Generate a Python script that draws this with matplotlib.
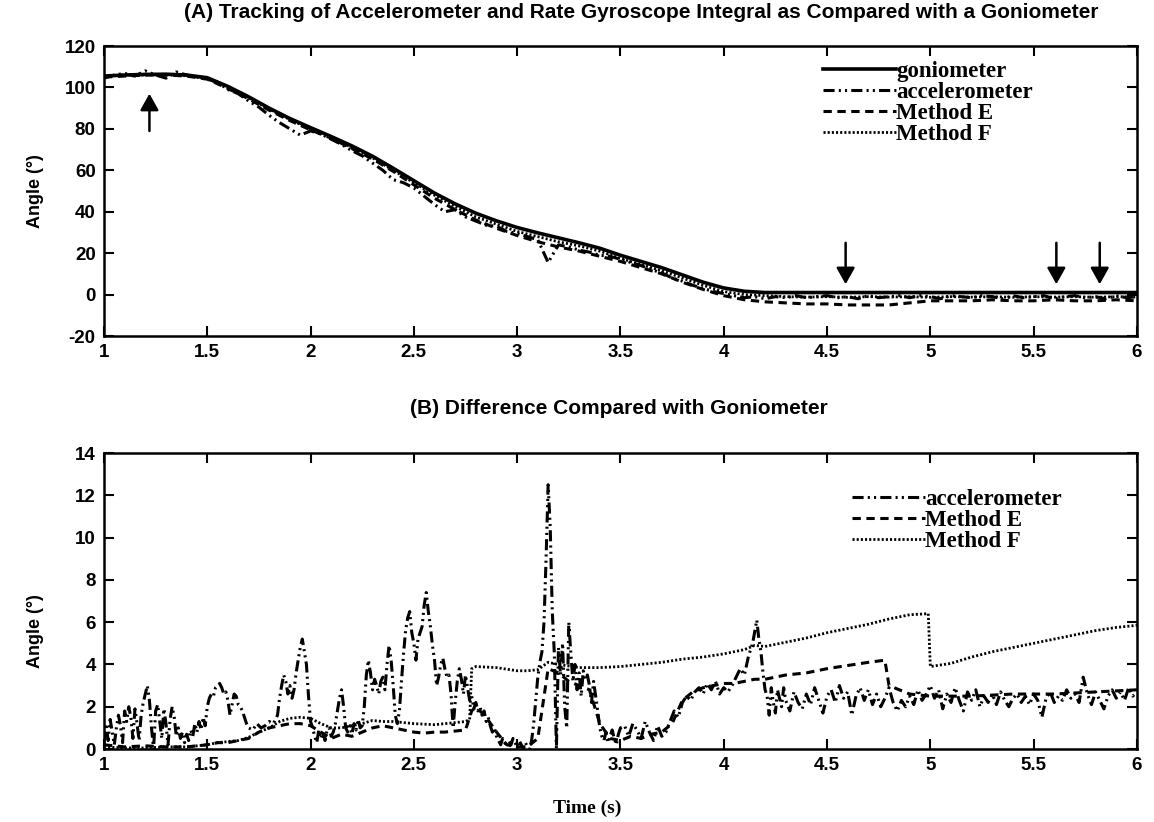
import numpy as np
import matplotlib
matplotlib.use("Agg")
import matplotlib.pyplot as plt

plt.rcParams["lines.scale_dashes"] = False
plt.rcParams["axes.unicode_minus"] = False
plt.rcParams["font.family"] = "Liberation Sans"
plt.rcParams["font.weight"] = "bold"

# ---- (A) joint angle, sampled every 0.1 s (accelerometer every 0.05 s)
t_a = np.round(np.arange(1.0, 6.001, 0.1), 2)
t_acc_a = np.round(np.arange(1.0, 6.001, 0.05), 3)

gonio_a = [105.5, 106.0, 106.3, 106.4, 106.0, 104.7, 100.5, 95.5, 90.0, 85.0,
           80.6, 76.3, 71.8, 66.8, 61.0, 55.0, 49.0, 43.8, 39.3, 35.6,
           32.4, 29.8, 27.4, 25.0, 22.4, 19.0, 16.0, 13.0, 9.5, 6.0,
           3.2, 1.6, 1.0, 1.0, 1.0, 1.0, 1.0, 1.0, 1.0, 1.0,
           1.0, 1.0, 1.0, 1.0, 1.0, 1.0, 1.0, 1.0, 1.0, 1.0, 1.0]

method_e_a = [105.0, 105.5, 106.0, 106.0, 105.5, 104.0, 99.5, 94.5, 89.0, 84.0,
              79.5, 75.5, 70.5, 65.5, 59.5, 53.0, 46.5, 41.0, 36.0, 32.0,
              28.5, 25.5, 23.0, 21.0, 18.5, 16.0, 13.0, 10.0, 6.0, 2.5,
              -0.5, -2.5, -3.5, -4.0, -4.5, -4.5, -5.0, -5.0, -5.0, -4.0,
              -3.0, -3.0, -3.0, -2.5, -3.0, -3.0, -2.5, -3.0, -3.0, -2.5, -3.0]

method_f_a = [105.5, 106.0, 106.0, 106.2, 105.8, 104.3, 100.0, 95.0, 89.5, 84.5,
              80.0, 75.8, 71.0, 66.0, 60.0, 54.0, 48.0, 42.5, 37.5, 34.0,
              30.5, 28.0, 25.5, 23.5, 21.0, 17.5, 14.5, 11.5, 8.0, 4.5,
              1.5, 0.0, -0.5, -1.0, -1.2, -1.0, -1.3, -1.0, -1.2, -1.0,
              -1.3, -1.0, -1.2, -1.0, -1.3, -1.0, -1.2, -1.0, -1.3, -1.0, -1.2]

accel_a = [104.5, 106.0, 106.8, 105.5, 108.0, 106.0, 104.5, 107.5, 106.0, 105.0,
           104.0, 102.5, 99.0, 97.0, 93.5, 90.5, 86.5, 83.0, 80.0, 77.0,
           79.0, 77.5, 75.0, 72.5, 69.5, 67.0, 63.5, 60.0, 55.5, 54.0,
           51.5, 47.5, 43.5, 40.0, 41.0, 37.5, 35.5, 33.5, 33.0, 30.5,
           29.5, 28.0, 26.5, 15.5, 24.0, 23.0, 21.5, 20.5, 19.0, 18.5,
           17.0, 15.5, 14.0, 12.0, 10.5, 8.0, 6.5, 4.5, 3.0, 1.5,
           0.5, -0.5, -1.5, -1.0, -2.0, -1.0, -1.5, -0.5, -1.5, -1.0,
           -0.5, -1.5, -1.0, -2.0, -0.5, -1.5, -1.0, -0.5, -1.5, -0.5,
           -1.0, -2.0, -0.5, -1.0, -1.5, -0.5, -1.0, -2.0, -0.5, -1.5,
           -1.0, -0.5, -2.0, -1.0, -0.5, -1.5, -1.0, -2.0, -0.5, -1.5, -1.0]

# arrows marking events in (A)
up_arrow_t = [1.22]
down_arrow_t = [4.59, 5.61, 5.82]

# ---- (B) absolute difference from the goniometer
acc_b_t = [1.00, 1.01, 1.02, 1.03, 1.04, 1.05, 1.06, 1.07, 1.08, 1.09,
           1.10, 1.11, 1.12, 1.13, 1.14, 1.15, 1.16, 1.17, 1.18, 1.19,
           1.20, 1.21, 1.22, 1.23, 1.24, 1.25, 1.26, 1.27, 1.28, 1.29,
           1.30, 1.31, 1.32, 1.33, 1.34, 1.35, 1.36, 1.37, 1.38, 1.39,
           1.40, 1.41, 1.42, 1.43, 1.44, 1.45, 1.46, 1.47, 1.48, 1.49,
           1.50, 1.51, 1.52, 1.53, 1.54, 1.55, 1.56, 1.57, 1.58, 1.59,
           1.60, 1.61, 1.62, 1.63, 1.64, 1.65, 1.66, 1.67, 1.68, 1.69,
           1.70, 1.72, 1.74, 1.76, 1.78, 1.80, 1.82, 1.84, 1.85, 1.86,
           1.87, 1.88, 1.89, 1.90, 1.91, 1.92, 1.93, 1.94, 1.95, 1.96,
           1.97, 1.98, 1.99, 2.00, 2.01, 2.02, 2.03, 2.04, 2.05, 2.06,
           2.07, 2.08, 2.09, 2.10, 2.11, 2.12, 2.13, 2.14, 2.15, 2.16,
           2.17, 2.18, 2.19, 2.20, 2.21, 2.22, 2.23, 2.24, 2.25, 2.26,
           2.27, 2.28, 2.29, 2.30, 2.31, 2.32, 2.33, 2.34, 2.35, 2.36,
           2.37, 2.38, 2.39, 2.40, 2.41, 2.42, 2.43, 2.44, 2.45, 2.46,
           2.47, 2.48, 2.49, 2.50, 2.51, 2.52, 2.53, 2.54, 2.55, 2.56,
           2.57, 2.58, 2.59, 2.60, 2.61, 2.62, 2.63, 2.64, 2.65, 2.66,
           2.67, 2.68, 2.69, 2.70, 2.71, 2.72, 2.73, 2.74, 2.75, 2.76,
           2.77, 2.78, 2.79, 2.80, 2.81, 2.82, 2.83, 2.84, 2.85, 2.86,
           2.87, 2.88, 2.89, 2.90, 2.91, 2.92, 2.93, 2.94, 2.95, 2.96,
           2.97, 2.98, 2.99, 3.00, 3.01, 3.02, 3.03, 3.04, 3.05, 3.06,
           3.07, 3.08, 3.09, 3.10, 3.11, 3.12, 3.13, 3.14, 3.15, 3.16,
           3.17, 3.18, 3.19, 3.20, 3.21, 3.22, 3.23, 3.24, 3.25, 3.26,
           3.27, 3.28, 3.29, 3.30, 3.31, 3.32, 3.33, 3.34, 3.35, 3.36,
           3.37, 3.38, 3.39, 3.40, 3.41, 3.42, 3.43, 3.44, 3.45, 3.46,
           3.47, 3.48, 3.49, 3.50, 3.52, 3.54, 3.56, 3.58, 3.60, 3.62,
           3.64, 3.66, 3.68, 3.70, 3.72, 3.74, 3.76, 3.78, 3.80, 3.82,
           3.84, 3.86, 3.88, 3.90, 3.92, 3.94, 3.96, 3.98, 4.00, 4.02,
           4.04, 4.06, 4.08, 4.10, 4.12, 4.14, 4.16, 4.17, 4.18, 4.19,
           4.20, 4.21, 4.22, 4.23, 4.24, 4.25, 4.26, 4.27, 4.28, 4.29,
           4.30, 4.32, 4.34, 4.36, 4.38, 4.40, 4.42, 4.44, 4.46, 4.48,
           4.50, 4.52, 4.54, 4.56, 4.58, 4.60, 4.62, 4.64, 4.66, 4.68,
           4.70, 4.72, 4.74, 4.76, 4.78, 4.80, 4.82, 4.84, 4.86, 4.88,
           4.90, 4.92, 4.94, 4.96, 4.98, 5.00, 5.02, 5.04, 5.06, 5.08,
           5.10, 5.12, 5.14, 5.16, 5.18, 5.20, 5.22, 5.24, 5.26, 5.28,
           5.30, 5.32, 5.34, 5.36, 5.38, 5.40, 5.42, 5.44, 5.46, 5.48,
           5.50, 5.52, 5.54, 5.56, 5.58, 5.60, 5.62, 5.64, 5.66, 5.68,
           5.70, 5.72, 5.74, 5.76, 5.78, 5.80, 5.82, 5.84, 5.86, 5.88,
           5.90, 5.92, 5.94, 5.96, 5.98, 6.00]
acc_b_v = [0.3, 1.2, 0.4, 1.4, 0.8, 0.2, 1.0, 1.6, 1.1, 0.3,
           1.8, 1.3, 2.0, 1.5, 0.5, 1.9, 1.2, 0.4, 1.6, 2.2,
           2.6, 3.0, 2.3, 1.0, 0.0, 1.8, 2.1, 1.3, 0.5, 1.9,
           1.2, 0.2, 1.4, 2.0, 1.5, 0.6, 1.0, 0.5, 0.8, 0.3,
           0.7, 0.4, 0.9, 0.6, 1.2, 0.8, 1.3, 0.9, 1.5, 1.1,
           2.0, 2.4, 2.6, 2.5, 2.9, 3.0, 3.1, 2.9, 2.6, 2.7,
           2.3, 1.6, 2.1, 2.6, 2.5, 2.1, 2.0, 1.8, 1.5, 1.2,
           1.0, 0.9, 1.2, 1.0, 1.1, 1.3, 1.2, 1.6, 2.4, 3.0,
           3.5, 3.2, 2.6, 3.0, 2.4, 2.8, 3.6, 4.2, 4.8, 5.2,
           4.6, 4.0, 2.5, 1.3, 1.0, 0.6, 0.3, 0.9, 0.5, 0.8,
           0.4, 0.9, 1.0, 0.6, 0.8, 1.2, 1.8, 2.4, 2.8, 2.0,
           1.0, 0.8, 1.1, 0.7, 1.2, 0.9, 1.4, 1.0, 1.1, 2.0,
           3.5, 4.2, 3.6, 2.8, 3.3, 3.0, 2.6, 3.2, 3.4, 2.8,
           4.0, 4.9, 4.2, 3.0, 1.6, 1.2, 1.8, 3.2, 4.5, 5.6,
           6.2, 6.5, 5.5, 5.0, 4.2, 5.2, 5.5, 5.8, 6.8, 7.4,
           6.5, 5.8, 4.9, 4.2, 3.0, 3.4, 4.0, 4.3, 3.8, 3.4,
           3.5, 2.6, 1.0, 2.2, 3.2, 3.8, 3.3, 2.6, 3.5, 2.9,
           2.3, 2.5, 1.9, 2.2, 1.8, 2.0, 1.6, 1.8, 1.3, 1.5,
           1.1, 0.8, 1.0, 0.6, 0.4, 0.2, 0.5, 0.3, 0.1, 0.4,
           0.2, 0.5, 0.3, 0.1, 0.4, 0.2, 0.0, 0.3, 0.1, 0.0,
           0.4, 1.2, 2.3, 3.4, 4.1, 4.6, 6.0, 9.0, 12.5, 10.5,
           6.5, 4.5, 0.0, 4.8, 3.5, 5.0, 2.0, 1.0, 6.0, 4.5,
           3.2, 4.0, 2.8, 3.6, 2.5, 3.7, 3.3, 3.5, 3.0, 2.2,
           3.2, 2.5, 1.8, 1.0, 0.6, 0.4, 0.8, 0.3, 0.6, 0.9,
           0.5, 0.2, 0.7, 1.0, 1.1, 0.6, 1.2, 0.9, 0.5, 1.3,
           0.8, 0.4, 1.1, 0.6, 0.8, 1.3, 1.8, 1.5, 2.2, 2.5,
           2.3, 2.7, 2.9, 2.6, 3.1, 2.8, 3.2, 2.6, 2.9, 2.7,
           3.0, 3.4, 3.8, 3.5, 4.4, 5.0, 6.1, 5.2, 4.6, 3.6,
           2.8, 2.5, 1.6, 2.9, 2.2, 1.7, 2.8, 2.4, 2.0, 2.9,
           2.3, 1.8, 2.7, 2.2, 1.9, 2.6, 2.1, 2.9, 2.3, 1.7,
           2.5, 2.8, 2.2, 3.0, 2.4, 2.7, 1.6, 2.5, 2.9, 2.3,
           2.8, 2.1, 2.6, 2.0, 2.4, 2.9, 2.2, 1.8, 2.3, 2.0,
           2.5, 2.1, 2.8, 2.3, 2.6, 3.0, 2.4, 2.8, 1.9, 2.6,
           2.2, 2.9, 2.3, 1.8, 2.7, 2.3, 2.8, 2.0, 2.5, 2.2,
           2.6, 2.1, 2.7, 2.3, 2.0, 2.4, 2.6, 2.2, 2.5, 2.1,
           2.6, 2.3, 1.5, 2.4, 2.7, 2.2, 2.5, 2.3, 2.8, 2.4,
           2.6, 2.2, 3.4, 2.6, 2.1, 2.7, 2.3, 1.9, 2.5, 2.8,
           2.4, 2.7, 2.3, 2.9, 2.5, 2.7]

e_b_t = [1.00, 1.10, 1.20, 1.30, 1.40, 1.50, 1.55, 1.60, 1.70, 1.75,
         1.80, 1.85, 1.90, 1.95, 2.00, 2.05, 2.10, 2.15, 2.20, 2.25,
         2.30, 2.35, 2.40, 2.45, 2.50, 2.55, 2.60, 2.65, 2.70, 2.75,
         2.78, 2.80, 2.85, 2.90, 2.95, 3.00, 3.05, 3.10, 3.15, 3.20,
         3.25, 3.30, 3.35, 3.40, 3.45, 3.50, 3.55, 3.60, 3.65, 3.70,
         3.75, 3.80, 3.85, 3.90, 3.95, 4.00, 4.05, 4.10, 4.15, 4.20,
         4.25, 4.30, 4.40, 4.50, 4.60, 4.70, 4.78, 4.80, 4.85, 4.90,
         5.00, 5.20, 5.40, 5.60, 5.80, 6.00]
e_b_v = [0.2, 0.1, 0.15, 0.1, 0.1, 0.2, 0.3, 0.3, 0.5, 0.8,
         1.0, 1.1, 1.2, 1.2, 1.1, 0.8, 0.5, 0.7, 0.6, 0.8,
         1.0, 1.1, 1.0, 0.9, 0.8, 0.75, 0.8, 0.8, 0.85, 0.9,
         1.8, 2.0, 1.5, 0.8, 0.2, 0.1, 0.1, 0.5, 3.8, 3.6,
         3.2, 3.0, 2.8, 1.2, 0.5, 0.4, 0.6, 0.5, 0.7, 0.8,
         1.2, 2.3, 2.7, 2.9, 3.0, 3.1, 3.1, 3.2, 3.3, 3.3,
         3.4, 3.5, 3.6, 3.8, 3.95, 4.1, 4.2, 3.0, 2.8, 2.6,
         2.5, 2.5, 2.6, 2.6, 2.7, 2.8]

f_b_t = [1.00, 1.10, 1.20, 1.30, 1.40, 1.50, 1.55, 1.60, 1.65, 1.70,
         1.75, 1.80, 1.85, 1.90, 1.95, 2.00, 2.05, 2.10, 2.15, 2.20,
         2.25, 2.30, 2.35, 2.40, 2.50, 2.60, 2.70, 2.75, 2.77, 2.78,
         2.80, 2.90, 3.00, 3.05, 3.10, 3.15, 3.20, 3.30, 3.40, 3.50,
         3.60, 3.70, 3.80, 3.90, 4.00, 4.10, 4.15, 4.20, 4.30, 4.40,
         4.50, 4.60, 4.70, 4.80, 4.90, 4.99, 5.00, 5.10, 5.20, 5.30,
         5.40, 5.50, 5.60, 5.70, 5.80, 5.90, 6.00]
f_b_v = [0.1, 0.05, 0.05, 0.1, 0.1, 0.2, 0.3, 0.35, 0.4, 0.55,
         0.8, 1.0, 1.3, 1.45, 1.5, 1.45, 1.2, 1.0, 1.0, 1.1,
         1.2, 1.35, 1.3, 1.3, 1.2, 1.15, 1.25, 1.3, 1.4, 3.8,
         3.9, 3.85, 3.7, 3.7, 3.75, 4.1, 4.0, 3.85, 3.85, 3.9,
         4.0, 4.1, 4.25, 4.35, 4.5, 4.7, 4.9, 4.85, 5.05, 5.25,
         5.5, 5.7, 5.9, 6.15, 6.35, 6.4, 3.9, 4.05, 4.35, 4.6,
         4.8, 5.0, 5.2, 5.4, 5.6, 5.75, 5.85]

# ---- line styles (dash lengths in points)
GONIO = dict(color="black", lw=2.6, linestyle="-")
ACCEL = dict(color="black", lw=2.2, linestyle=(0, (8, 3, 1.5, 3, 1.5, 3)))
METH_E = dict(color="black", lw=2.2, linestyle=(0, (6, 4)))
METH_F = dict(color="black", lw=2.0, linestyle=(0, (1.5, 1.5)))

serif = "Liberation Serif"
legend_prop = {"family": serif, "size": 16.5, "weight": "bold"}
legend_kw = dict(loc="upper left", frameon=False, handlelength=3.2,
                 handletextpad=0.0, labelspacing=0.0, borderpad=0,
                 borderaxespad=0, prop=legend_prop)

fig = plt.figure(figsize=(11.54, 8.22), dpi=100)
ax_a = fig.add_axes([0.0901, 0.5912, 0.8951, 0.3528])
ax_b = fig.add_axes([0.0901, 0.0888, 0.8951, 0.3601])

# ---- panel A
ax_a.plot(t_a, gonio_a, label="goniometer", **GONIO)
ax_a.plot(t_acc_a, accel_a, label="accelerometer", **ACCEL)
ax_a.plot(t_a, method_e_a, label="Method E", **METH_E)
ax_a.plot(t_a, method_f_a, label="Method F", **METH_F)

arrow_kw = dict(arrowstyle="-|>,head_length=0.5,head_width=0.28",
                color="black", lw=1.8, mutation_scale=20, shrinkA=0, shrinkB=0)
for x in up_arrow_t:
    ax_a.annotate("", xy=(x, 97), xytext=(x, 79), arrowprops=arrow_kw)
for x in down_arrow_t:
    ax_a.annotate("", xy=(x, 5), xytext=(x, 25), arrowprops=arrow_kw)

ax_a.set_xlim(1, 6)
ax_a.set_ylim(-20, 120)
ax_a.set_yticks(np.arange(-20, 121, 20))
ax_a.set_ylabel("Angle (°)", fontsize=13, fontweight="bold")
ax_a.yaxis.set_label_coords(-0.058, 0.5)
ax_a.legend(bbox_to_anchor=(0.696, 0.95), **legend_kw)
fig.text(641 / 1154, 1 - 13 / 822,
         "(A) Tracking of Accelerometer and Rate Gyroscope Integral as Compared with a Goniometer",
         ha="center", va="center", fontsize=15, fontweight="bold")

# ---- panel B
ax_b.plot(acc_b_t, acc_b_v, label="accelerometer", **ACCEL)
ax_b.plot(e_b_t, e_b_v, label="Method E", **METH_E)
ax_b.plot(f_b_t, f_b_v, label="Method F", **METH_F)

ax_b.set_xlim(1, 6)
ax_b.set_ylim(0, 14)
ax_b.set_yticks(np.arange(0, 15, 2))
ax_b.set_ylabel("Angle (°)", fontsize=13, fontweight="bold")
ax_b.yaxis.set_label_coords(-0.058, 0.4)
ax_b.set_xlabel("Time (s)", family=serif, fontsize=14, fontweight="bold")
ax_b.xaxis.set_label_coords(0.468, -0.17)
ax_b.legend(bbox_to_anchor=(0.724, 0.88), **legend_kw)
fig.text(619 / 1154, 1 - 408 / 822,
         "(B) Difference Compared with Goniometer",
         ha="center", va="center", fontsize=15, fontweight="bold")

for ax in (ax_a, ax_b):
    ax.set_xticks(np.arange(1, 6.01, 0.5))
    ax.set_xticklabels(["%g" % v for v in np.arange(1, 6.01, 0.5)])
    ax.tick_params(direction="in", length=7, width=1.5, top=True, right=True,
                   labelsize=13.5, pad=6)
    for lbl in ax.get_xticklabels() + ax.get_yticklabels():
        lbl.set_fontweight("bold")
    for sp in ax.spines.values():
        sp.set_linewidth(1.8)

fig.savefig("out.png", dpi=100)
